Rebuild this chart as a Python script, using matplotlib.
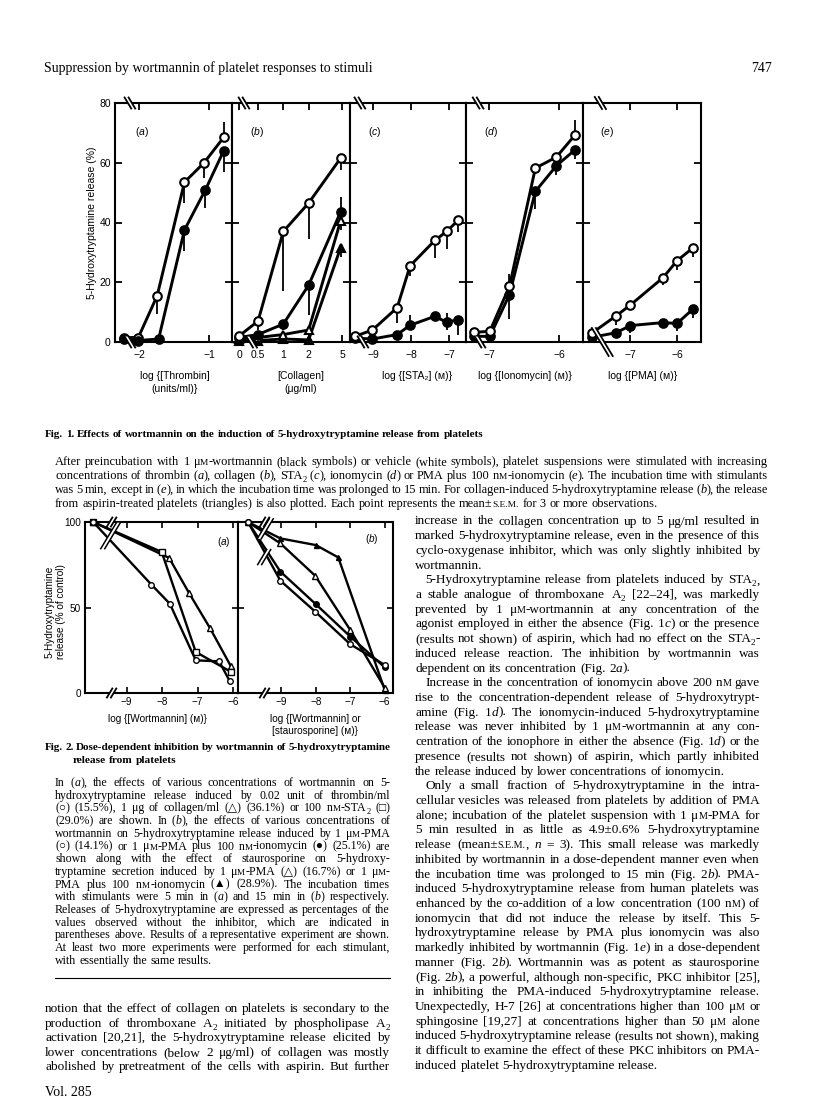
import re
import matplotlib
matplotlib.use('Agg')
import matplotlib.pyplot as plt
from matplotlib.lines import Line2D
from matplotlib.patches import Polygon
from matplotlib.ticker import NullLocator

W, H = 816, 1112
PT = 100 / 72

SANS = ['Liberation Sans', 'DejaVu Sans']
SERIF = ['Liberation Serif', 'DejaVu Sans']
plt.rcParams['font.family'] = SANS
plt.rcParams['mathtext.fontset'] = 'custom'
plt.rcParams['mathtext.rm'] = 'Liberation Sans'
plt.rcParams['mathtext.it'] = 'Liberation Sans:italic'
plt.rcParams['axes.linewidth'] = 1.5

# ---------------- Fig. 1 data (first point of each series = no agonist) ----------------
# (a) thrombin, log units/ml
thr_x_open = [-2.21, -2.01, -1.74, -1.35, -1.07, -0.79]
thr_y_open = [1.5, 1.5, 15.5, 53.5, 60.0, 68.5]
thr_lo_open = [0, 0, 6, 7, 5, 0]
thr_hi_open = [0, 0, 0, 0, 0, 5]
thr_x_fill = [-2.21, -2.01, -1.72, -1.35, -1.05, -0.79]
thr_y_fill = [1.0, 0.5, 1.0, 37.5, 51.0, 64.0]
thr_lo_fill = [0, 0, 0, 7, 6, 7]
thr_hi_fill = [0, 0, 0, 0, 0, 0]

# (b) collagen, ug/ml (log axis, 0 drawn left of the break)
col_x = [0.297, 0.5, 1.0, 2.0, 4.8]
col_y_open = [2.0, 7.0, 37.0, 46.5, 61.5]
col_lo_open = [0, 3, 20, 12, 4]
col_y_fill = [1.5, 2.5, 6.0, 19.0, 43.5]
col_lo_fill = [0, 0, 2, 10, 0]
col_hi_fill = [0, 0, 0, 0, 5]
col_y_asp_open = [1.0, 1.5, 2.5, 4.0, 40.5]
col_lo_asp_open = [0, 0, 0, 0, 3]
col_y_asp_fill = [0.5, 0.5, 1.0, 0.7, 31.5]
col_lo_asp_fill = [0, 0, 0, 0, 3]

# (c) STA2, log M
sta_x = [-9.48, -9.02, -8.37, -8.03, -7.38, -7.07, -6.76]
sta_y_open = [1.9, 4.0, 11.5, 25.5, 34.0, 37.0, 40.8]
sta_lo_open = [0, 0, 5, 3.5, 6, 6, 4]
sta_y_fill = [1.3, 1.0, 2.5, 5.6, 8.6, 6.6, 7.5]
sta_lo_fill = [0, 0, 0, 0, 0, 2.5, 5]
sta_hi_fill = [0, 0, 0, 3.4, 0, 3, 0]

# (d) ionomycin, log M
ion_x = [-7.22, -6.99, -6.71, -6.34, -6.04, -5.77]
ion_y_open = [3.2, 3.6, 18.6, 58.2, 61.9, 69.4]
ion_lo_open = [0, 0, 0, 0, 4, 0]
ion_hi_open = [0, 0, 4, 0, 0, 5]
ion_y_fill = [1.9, 1.9, 15.8, 50.4, 59.0, 64.4]
ion_lo_fill = [0, 0, 8, 6, 3, 3]

# (e) PMA, log M
pma_x = [-7.81, -7.31, -7.0, -6.31, -6.01, -5.68]
pma_y_open = [3.1, 8.7, 12.4, 21.5, 27.2, 31.4]
pma_lo_open = [0, 3, 0, 2.5, 3, 3]
pma_y_fill = [1.6, 3.1, 5.5, 6.5, 6.2, 10.9]
pma_lo_fill = [0, 0, 2.5, 0, 2.5, 3]

# ---------------- Fig. 2 data (% of control) ----------------
# (a) wortmannin
w_thr_x = [-9.94, -8.30, -7.78, -7.05, -6.39, -6.09]
w_thr_y = [100, 63.4, 52.2, 19.1, 18.5, 6.8]
w_col_x = [-9.94, -7.80, -7.24, -6.65, -6.07]
w_col_y = [100, 79.0, 58.5, 38.0, 16.0]
w_sta_x = [-9.94, -8.01, -7.05, -6.07]
w_sta_y = [100, 82.5, 24.0, 12.5]
# (b) wortmannin or staurosporine
st_ionpma_x = [-9.97, -9.03, -8.00, -7.35, -6.00]
st_ionpma_y = [100, 90.4, 86.5, 79.3, 1.8]
st_pma_x = [-9.97, -9.03, -8.02, -7.00, -6.00]
st_pma_y = [100, 87.5, 68.6, 36.8, 3.1]
wo_ionpma_x = [-9.97, -9.03, -8.00, -7.00, -6.00]
wo_ionpma_y = [100, 71.0, 51.9, 33.0, 15.0]
wo_pma_x = [-9.97, -9.03, -8.02, -7.00, -6.00]
wo_pma_y = [100, 65.7, 47.6, 28.5, 16.4]

fig = plt.figure(figsize=(W / 100, H / 100), dpi=100)


def rect(x0, y0, x1, y1):
    return [x0 / W, 1 - y1 / H, (x1 - x0) / W, (y1 - y0) / H]


def series(ax, x, y, lo, hi, marker, filled, ms=6.2):
    ax.errorbar(x, y, yerr=[lo, hi], fmt='none', ecolor='k', elinewidth=1.3, capsize=0, zorder=2)
    ax.plot(x, y, color='k', lw=2.1, marker=marker, ms=ms, mfc='k' if filled else 'white',
            mec='k', mew=1.5, zorder=3, clip_on=False)


def brk(ax, x, y, h=12, gap=4, lean=-1, data_y=False, lw=1.3):
    # small "//" style break drawn in pixels
    tr = ax.transData if data_y else ax.get_xaxis_transform()
    px, py = tr.transform((x, y))
    dx = 0.3 * h * lean
    a = [(px - gap / 2 - dx, py - h / 2), (px - gap / 2 + dx, py + h / 2)]
    b = [(px + gap / 2 - dx, py - h / 2), (px + gap / 2 + dx, py + h / 2)]
    inv = fig.transFigure.inverted()
    fig.add_artist(Polygon(inv.transform(a + b[::-1]), closed=True, fc='white', ec='none',
                           transform=fig.transFigure, zorder=5))
    for seg in (a, b):
        s = inv.transform(seg)
        fig.add_artist(Line2D(s[:, 0], s[:, 1], color='k', lw=lw, transform=fig.transFigure, zorder=6))


# ---------------- Fig. 1 axes ----------------
f1_edges = [115, 232, 350, 466, 583, 701]
f1_top, f1_bot = 103, 342
ax1 = []
for i in range(5):
    ax = fig.add_axes(rect(f1_edges[i], f1_top, f1_edges[i + 1], f1_bot))
    ax.set_ylim(0, 80)
    ax.set_yticks([0, 20, 40, 60, 80])
    ax.set_yticklabels(['0', '20', '40', '60', '80'])
    ax.tick_params(direction='in', length=5, width=1.3, top=True, right=True,
                   labelsize=7.5, labelleft=(i == 0))
    ax.tick_params(axis='x', pad=6)
    ax.tick_params(axis='y', pad=3)
    ax1.append(ax)

a, b, c, d, e = ax1
a.set_xlim(-2.343, -0.671)
a.set_xticks([-2, -1])
a.set_xticklabels(['\u22122', '\u22121'])
series(a, thr_x_open, thr_y_open, thr_lo_open, thr_hi_open, 'o', False)
series(a, thr_x_fill, thr_y_fill, thr_lo_fill, thr_hi_fill, 'o', True)

b.set_xscale('log')
b.set_xlim(0.245, 6.22)
b.set_xticks([0.297, 0.5, 1, 2, 5])
b.set_xticklabels(['0', '0.5', '1', '2', '5'])
b.xaxis.set_minor_locator(NullLocator())
series(b, col_x, col_y_asp_fill, col_lo_asp_fill, [0, 0, 0, 0, 0], '^', True)
series(b, col_x, col_y_asp_open, col_lo_asp_open, [0, 0, 0, 0, 0], '^', False)
series(b, col_x, col_y_fill, col_lo_fill, col_hi_fill, 'o', True)
series(b, col_x, col_y_open, col_lo_open, [0, 0, 0, 0, 0], 'o', False)

c.set_xlim(-9.61, -6.56)
c.set_xticks([-9, -8, -7])
c.set_xticklabels(['\u22129', '\u22128', '\u22127'])
series(c, sta_x, sta_y_fill, sta_lo_fill, sta_hi_fill, 'o', True)
series(c, sta_x, sta_y_open, sta_lo_open, [0] * 7, 'o', False)

d.set_xlim(-7.33, -5.66)
d.set_xticks([-7, -6])
d.set_xticklabels(['\u22127', '\u22126'])
series(d, ion_x, ion_y_fill, ion_lo_fill, [0] * 6, 'o', True)
series(d, ion_x, ion_y_open, ion_lo_open, ion_hi_open, 'o', False)

e.set_xlim(-8.01, -5.50)
e.set_xticks([-7, -6])
e.set_xticklabels(['\u22127', '\u22126'])
series(e, pma_x, pma_y_fill, pma_lo_fill, [0] * 6, 'o', True)
series(e, pma_x, pma_y_open, pma_lo_open, [0] * 6, 'o', False)

for ax, lab, xp in zip(ax1, 'abcde', [135, 250, 368, 484, 600]):
    fig.text(xp / W, 1 - 132 / H, r'($\mathit{%s}$)' % lab, fontsize=7.5, ha='left', va='center')

fig.text(92 / W, 1 - 223 / H, '5-Hydroxytryptamine release (%)', rotation=90,
         fontsize=7.5, ha='center', va='center')
f1_xlabels = [('log {[Thrombin]\n(units/ml)}', 175), ('[Collagen]\n(\u03bcg/ml)', 301),
              ('log {[STA\u2082] (\u1d0d)}', 417), ('log {[Ionomycin] (\u1d0d)}', 525),
              ('log {[PMA] (\u1d0d)}', 643)]
for txt, xc in f1_xlabels:
    fig.text(xc / W, 1 - 371 / H, txt, fontsize=7.5, ha='center', va='top', linespacing=1.35,
             family=SANS)

# ---------------- Fig. 2 axes ----------------
f2_edges = [85, 238, 393]
f2_top, f2_bot = 522, 693
ax2 = []
for i in range(2):
    ax = fig.add_axes(rect(f2_edges[i], f2_top, f2_edges[i + 1], f2_bot))
    ax.set_ylim(0, 100)
    ax.set_yticks([0, 50, 100])
    ax.set_yticklabels(['0', '50', '100'])
    ax.set_xticks([-9, -8, -7, -6])
    ax.set_xticklabels(['\u22129', '\u22128', '\u22127', '\u22126'])
    ax.tick_params(direction='in', length=4, width=1.2, top=True, right=True,
                   labelsize=7.2, labelleft=(i == 0), pad=3)
    ax2.append(ax)
p, q = ax2
p.set_xlim(-10.17, -5.86)
q.set_xlim(-10.26, -5.76)


def s2(ax, x, y, marker, filled, ms=4.0):
    ax.plot(x, y, color='k', lw=1.7, marker=marker, ms=ms, mfc='k' if filled else 'white',
            mec='k', mew=1.0, zorder=3, clip_on=False)


s2(p, w_col_x, w_col_y, '^', False, 4.5)
s2(p, w_sta_x, w_sta_y, 's', False, 4.0)
s2(p, w_thr_x, w_thr_y, 'o', False)
s2(q, st_ionpma_x, st_ionpma_y, '^', True, 3.6)
s2(q, st_pma_x, st_pma_y, '^', False, 4.2)
s2(q, wo_ionpma_x, wo_ionpma_y, 'o', True)
s2(q, wo_pma_x, wo_pma_y, 'o', False)

fig.text(217 / W, 1 - 542 / H, r'($\mathit{a}$)', fontsize=7.2, ha='left', va='center')
fig.text(365 / W, 1 - 539 / H, r'($\mathit{b}$)', fontsize=7.2, ha='left', va='center')
fig.text(55 / W, 1 - 612 / H, '5-Hydroxytryptamine\nrelease (% of control)', rotation=90,
         fontsize=7.2, ha='center', va='center', linespacing=1.15)
fig.text(157 / W, 1 - 714 / H, 'log {[Wortmannin] (\u1d0d)}', fontsize=7.2, ha='center', va='top')
fig.text(315 / W, 1 - 714 / H, 'log {[Wortmannin] or\n[staurosporine] (\u1d0d)}', fontsize=7.2,
         ha='center', va='top', linespacing=1.3)

# ---------------- axis / line breaks ----------------
for ax, xb_top, xb_bot in [(a, -2.13, -2.13), (b, 0.34, 0.42), (c, -9.35, -9.27),
                           (d, -7.157, -7.13)]:
    brk(ax, xb_top, 1.0, h=11, lean=-1)
    brk(ax, xb_bot, 0.0, h=11, lean=-1)
brk(e, -7.64, 1.0, h=12, lean=-1)
brk(e, -7.60, 0.0, h=28, lean=-1)
brk(p, -9.42, 0.0, h=9, lean=1)
brk(p, -9.42, 1.0, h=9, lean=1)
brk(q, -9.49, 0.0, h=9, lean=1)
brk(q, -9.49, 1.0, h=9, lean=1)
brk(p, -9.45, 92, h=26, lean=1, data_y=True, lw=1.1)
brk(q, -9.47, 96, h=20, lean=1, data_y=True, lw=1.1)
brk(q, -9.50, 79.5, h=15, lean=1, data_y=True, lw=1.1)

# ---------------- page text ----------------
renderer = fig.canvas.get_renderer()
TOKEN = re.compile(r'_([^_]+)_|~([^~]+)~|\^([^\^]+)\^|([^_~\^]+)')


def make_word(word, size, weight):
    parts = []
    for m in TOKEN.finditer(word):
        it, sub, sc, rm = m.groups()
        kw = dict(family=SERIF, weight=weight, fontsize=size, va='baseline', ha='left')
        dy = 0
        if it:
            s = it
            kw['style'] = 'italic'
        elif sub:
            s = sub
            kw['fontsize'] = size * 0.7
            dy = 0.22 * size * PT
        elif sc:
            s = sc
            kw['fontsize'] = size * 0.76
        else:
            s = rm
        t = fig.text(0, 0, s, **kw)
        parts.append((t, t.get_window_extent(renderer).width, dy))
    return parts


def text_line(x0, y, line, width, size, weight='normal', justify=True):
    words = line.split(' ')
    for _ in range(6):
        built = [make_word(w, size, weight) for w in words]
        widths = [sum(pp[1] for pp in bw) for bw in built]
        if justify and len(words) > 1:
            gap = (width - sum(widths)) / (len(words) - 1)
        else:
            gap = 0.25 * size * PT
        if gap >= 0.12 * size * PT:
            break
        for bw in built:
            for pp in bw:
                pp[0].remove()
        size *= 0.98
    x = x0
    for bw, wd in zip(built, widths):
        xx = x
        for t, w, dy in bw:
            t.set_position((xx / W, 1 - (y + dy) / H))
            xx += w
        x += wd + gap


def block(x0, y0, lines, width, size, pitch, weight='normal', ends=(), indent=()):
    for i, ln in enumerate(lines):
        ind = 10 if i in indent else 0
        text_line(x0 + ind, y0 + i * pitch, ln, width - ind, size, weight, justify=(i not in ends))


fig.text(44 / W, 1 - 72 / H, 'Suppression by wortmannin of platelet responses to stimuli',
         family=SERIF, fontsize=10, va='baseline', ha='left')
fig.text(772 / W, 1 - 72 / H, '747', family=SERIF, fontsize=10, va='baseline', ha='right')
fig.text(45 / W, 1 - 1096 / H, 'Vol. 285', family=SERIF, fontsize=10, va='baseline', ha='left')

fig1_title = ['Fig. 1. Effects of wortmannin on the induction of 5-hydroxytryptamine release from platelets']
block(45, 437, fig1_title, 440, 8.0, 13, weight='bold', ends=(0,))

fig1_caption = [
    'After preincubation with 1 \u03bc^M^-wortmannin (black symbols) or vehicle (white symbols), platelet suspensions were stimulated with increasing',
    'concentrations of thrombin (_a_), collagen (_b_), STA~2~ (_c_), ionomycin (_d_) or PMA plus 100 n^M^-ionomycin (_e_). The incubation time with stimulants',
    'was 5 min, except in (_e_), in which the incubation time was prolonged to 15 min. For collagen-induced 5-hydroxytryptamine release (_b_), the release',
    'from aspirin-treated platelets (triangles) is also plotted. Each point represents the mean\u00b1^S.E.M.^ for 3 or more observations.',
]
block(55, 465, fig1_caption, 713, 8.9, 14, ends=(3,))

fig2_title = ['Fig. 2. Dose-dependent inhibition by wortmannin of 5-hydroxytryptamine']
block(45, 750, fig2_title, 345, 8.2, 13, weight='bold')
block(73, 763, ['release from platelets'], 300, 8.2, 13, weight='bold', ends=(0,))

fig2_caption = [
    'In (_a_), the effects of various concentrations of wortmannin on 5-',
    'hydroxytryptamine release induced by 0.02 unit of thrombin/ml',
    '(\u25cb) (15.5%), 1 \u03bcg of collagen/ml (\u25b3) (36.1%) or 100 n^M^-STA~2~ (\u25a1)',
    '(29.0%) are shown. In (_b_), the effects of various concentrations of',
    'wortmannin on 5-hydroxytryptamine release induced by 1 \u03bc^M^-PMA',
    '(\u25cb) (14.1%) or 1 \u03bc^M^-PMA plus 100 n^M^-ionomycin (\u25cf) (25.1%) are',
    'shown along with the effect of staurosporine on 5-hydroxy-',
    'tryptamine secretion induced by 1 \u03bc^M^-PMA (\u25b3) (16.7%) or 1 \u03bc^M^-',
    'PMA plus 100 n^M^-ionomycin (\u25b2) (28.9%). The incubation times',
    'with stimulants were 5 min in (_a_) and 15 min in (_b_) respectively.',
    'Releases of 5-hydroxytryptamine are expressed as percentages of the',
    'values observed without the inhibitor, which are indicated in',
    'parentheses above. Results of a representative experiment are shown.',
    'At least two more experiments were performed for each stimulant,',
    'with essentially the same results.',
]
block(55, 786, fig2_caption, 335, 8.6, 12.7, ends=(14,))
fig.add_artist(Line2D([55 / W, 390 / W], [1 - 978 / H, 1 - 978 / H], color='k', lw=0.8,
                      transform=fig.transFigure))

left_body = [
    'notion that the effect of collagen on platelets is secondary to the',
    'production of thromboxane A~2~ initiated by phospholipase A~2~',
    'activation [20,21], the 5-hydroxytryptamine release elicited by',
    'lower concentrations (below 2 \u03bcg/ml) of collagen was mostly',
    'abolished by pretreatment of the cells with aspirin. But further',
]
block(45, 1012, left_body, 345, 9.5, 14.6)

right_body = [
    'increase in the collagen concentration up to 5 \u03bcg/ml resulted in',
    'marked 5-hydroxytryptamine release, even in the presence of this',
    'cyclo-oxygenase inhibitor, which was only slightly inhibited by',
    'wortmannin.',
    '5-Hydroxytryptamine release from platelets induced by STA~2~,',
    'a stable analogue of thromboxane A~2~ [22\u201324], was markedly',
    'prevented by 1 \u03bc^M^-wortmannin at any concentration of the',
    'agonist employed in either the absence (Fig. 1_c_) or the presence',
    '(results not shown) of aspirin, which had no effect on the STA~2~-',
    'induced release reaction. The inhibition by wortmannin was',
    'dependent on its concentration (Fig. 2_a_).',
    'Increase in the concentration of ionomycin above 200 n^M^ gave',
    'rise to the concentration-dependent release of 5-hydroxytrypt-',
    'amine (Fig. 1_d_). The ionomycin-induced 5-hydroxytryptamine',
    'release was never inhibited by 1 \u03bc^M^-wortmannin at any con-',
    'centration of the ionophore in either the absence (Fig. 1_d_) or the',
    'presence (results not shown) of aspirin, which partly inhibited',
    'the release induced by lower concentrations of ionomycin.',
    'Only a small fraction of 5-hydroxytryptamine in the intra-',
    'cellular vesicles was released from platelets by addition of PMA',
    'alone; incubation of the platelet suspension with 1 \u03bc^M^-PMA for',
    '5 min resulted in as little as 4.9\u00b10.6% 5-hydroxytryptamine',
    'release (mean\u00b1^S.E.M.^, _n_ = 3). This small release was markedly',
    'inhibited by wortmannin in a dose-dependent manner even when',
    'the incubation time was prolonged to 15 min (Fig. 2_b_). PMA-',
    'induced 5-hydroxytryptamine release from human platelets was',
    'enhanced by the co-addition of a low concentration (100 n^M^) of',
    'ionomycin that did not induce the release by itself. This 5-',
    'hydroxytryptamine release by PMA plus ionomycin was also',
    'markedly inhibited by wortmannin (Fig. 1_e_) in a dose-dependent',
    'manner (Fig. 2_b_). Wortmannin was as potent as staurosporine',
    '(Fig. 2_b_), a powerful, although non-specific, PKC inhibitor [25],',
    'in inhibiting the PMA-induced 5-hydroxytryptamine release.',
    'Unexpectedly, H-7 [26] at concentrations higher than 100 \u03bc^M^ or',
    'sphingosine [19,27] at concentrations higher than 50 \u03bc^M^ alone',
    'induced 5-hydroxytryptamine release (results not shown), making',
    'it difficult to examine the effect of these PKC inhibitors on PMA-',
    'induced platelet 5-hydroxytryptamine release.',
]
block(415, 524.5, right_body, 345, 9.5, 14.71, ends=(3, 10, 17, 37), indent=(4, 11, 18))

fig.savefig('out.png', dpi=100)
